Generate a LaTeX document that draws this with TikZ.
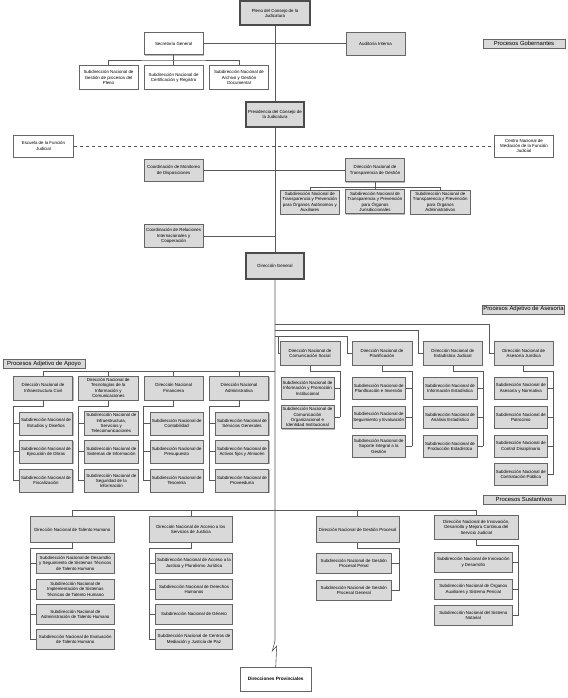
\documentclass[tikz,border=0pt]{standalone}
\usepackage{fontspec}
\setmainfont{Liberation Sans}
\usetikzlibrary{shadows}
\tikzset{
  org/.style={draw=black!60, fill=gray!30, line width=.5pt, align=center, inner sep=.5pt,
    font=\fontsize{4.4}{5.3}\selectfont,
    drop shadow={shadow xshift=.8pt, shadow yshift=-.8pt, fill=gray!55, opacity=1}},
  top/.style={org, draw=black!70, line width=2pt},
  blank/.style={org, fill=white},
  tag/.style={draw=black!60, fill=gray!30, line width=.5pt, inner sep=0pt,
    minimum width=82pt, minimum height=9pt, font=\fontsize{5.9}{6}\selectfont},
  wh/.style 2 args={minimum width=#1pt, minimum height=#2pt},
  link/.style={draw=black!65, line width=.6pt}
}
\begin{document}
\begin{tikzpicture}[x=1pt,y=-1pt]
  \useasboundingbox (0,0) rectangle (567,698);
  \node[top,wh={70}{24}] (pleno) at (275,13.5) {Pleno del Consejo de la\\Judicatura};
  \node[blank,wh={59}{22.5}] (secre) at (173.6,43.5) {Secretaría General};
  \node[org,wh={59}{23}] (audit) at (375.5,43.5) {Auditoría Interna};
  \node[tag] (gob) at (524,43.8) {Procesos Gobernantes};
  \node[blank,wh={59}{24}] (g1) at (108.5,77.7) {Subdirección Nacional de\\Gestión de procesos del\\Pleno};
  \node[blank,wh={59}{24}] (g2) at (173.6,77.7) {Subdirección Nacional de\\Certificación y Registro};
  \node[blank,wh={59}{24}] (g3) at (239,77.7) {Subdirección Nacional de\\Archivo y Gestión\\Documental};
  \node[top,wh={58}{25}] (presi) at (275,114.2) {Presidencia del Consejo de\\la Judicatura};
  \node[blank,wh={60}{21.5}] (escu) at (43.5,146) {Escuela de la Función\\Judicial};
  \node[blank,wh={59}{21.5}] (cnm) at (524,146) {Centro Nacional de\\Mediación de la Función\\Judicial};
  \node[org,wh={59}{22}] (cmon) at (173.6,170.3) {Coordinación de Monitoreo\\de Disposiciones};
  \node[org,wh={59}{23},line width=.9pt] (transp) at (375,170.3) {Dirección Nacional de\\Transparencia de Gestión};
  \node[org,wh={59}{24}] (t1) at (309.8,201.9) {Subdirección Nacional de\\Transparencia y Prevención\\para Órganos Autónomos y\\Auxiliares};
  \node[org,wh={59}{24},line width=1pt] (t2) at (375,201.9) {Subdirección Nacional de\\Transparencia y Prevención\\para Órganos\\Jurisdiccionales};
  \node[org,wh={59.7}{24}] (t3) at (440.3,201.9) {Subdirección Nacional de\\Transparencia y Prevención\\para Órganos\\Administrativos};
  \node[org,wh={59}{22.6}] (crel) at (173.6,236) {Coordinación de Relaciones\\Internacionales y\\Cooperación};
  \node[top,wh={58.6}{25.4}] (dgen) at (275,266) {Dirección General};
  \node[tag] (ases) at (523.5,309.3) {Procesos Adjetivo de Asesoría};
  \node[tag] (apoy) at (44,363.6) {Procesos Adjetivo de Apoyo};
  \node[tag] (sust) at (524,499.5) {Procesos Sustantivos};

  \node[org,wh={59.4}{24}] (a1) at (43,388) {Dirección Nacional de\\Infraestructura Civil};
  \node[org,wh={59.4}{24}] (a2) at (108.3,388) {Dirección Nacional de\\Tecnologías de la\\Información y\\Comunicaciones};
  \node[org,wh={59.4}{24}] (a3) at (173.7,388) {Dirección Nacional\\Financiera};
  \node[org,wh={59.4}{24}] (a4) at (239,388) {Dirección Nacional\\Administrativa};
  \node[org,wh={53.4}{23}] (a11) at (46,423.3) {Subdirección Nacional de\\Estudios y Diseños};
  \node[org,wh={53.4}{23}] (a12) at (46,451.7) {Subdirección Nacional de\\Ejecución de Obras};
  \node[org,wh={53.4}{23}] (a13) at (46,480.7) {Subdirección Nacional de\\Fiscalización};
  \node[org,wh={53.4}{24}] (a21) at (111.3,423.3) {Subdirección Nacional de\\Infraestructura,\\Servicios y\\Telecomunicaciones};
  \node[org,wh={53.4}{23}] (a22) at (111.3,451.7) {Subdirección Nacional de\\Sistemas de Información};
  \node[org,wh={53.4}{23}] (a23) at (111.3,480.7) {Subdirección Nacional de\\Seguridad de la\\Información};
  \node[org,wh={53.4}{23}] (a31) at (176.7,423.3) {Subdirección Nacional de\\Contabilidad};
  \node[org,wh={53.4}{23}] (a32) at (176.7,451.7) {Subdirección Nacional de\\Presupuesto};
  \node[org,wh={53.4}{23}] (a33) at (176.7,480.7) {Subdirección Nacional de\\Tesorería};
  \node[org,wh={53.4}{23}] (a41) at (242,423.3) {Subdirección Nacional de\\Servicios Generales};
  \node[org,wh={53.4}{23}] (a42) at (242,451.7) {Subdirección Nacional de\\Activos fijos y Almacén};
  \node[org,wh={53.4}{23}] (a43) at (242,480.7) {Subdirección Nacional de\\Proveeduría};

  \node[org,wh={59.5}{23.3}] (e1) at (310,353.3) {Dirección Nacional de\\Comunicación Social};
  \node[org,wh={59.5}{23.3}] (e2) at (382,353.3) {Dirección Nacional de\\Planificación};
  \node[org,wh={59.5}{23.3}] (e3) at (452.8,353.3) {Dirección Nacional de\\Estadística Judicial};
  \node[org,wh={59.5}{23.3}] (e4) at (523.7,353.3) {Dirección Nacional de\\Asesoría Jurídica};
  \node[org,wh={53.5}{22}] (e11) at (307.5,388.3) {Subdirección Nacional de\\Información y Promoción\\Institucional};
  \node[org,wh={53.5}{23}] (e12) at (307.5,417.2) {Subdirección Nacional de\\Comunicación\\Organizacional e\\Identidad Institucional};
  \node[org,wh={53.5}{22}] (e21) at (378.7,388.3) {Subdirección Nacional de\\Planificación e Inversión};
  \node[org,wh={53.5}{22}] (e22) at (378.7,417.2) {Subdirección Nacional de\\Seguimiento y Evaluación};
  \node[org,wh={53.5}{22}] (e23) at (378.7,446.2) {Subdirección Nacional de\\Soporte Integral a la\\Gestión};
  \node[org,wh={53.5}{22}] (e31) at (450,388.3) {Subdirección Nacional de\\Información Estadística};
  \node[org,wh={53.5}{22}] (e32) at (450,417.2) {Subdirección Nacional de\\Análisis Estadístico};
  \node[org,wh={53.5}{22}] (e33) at (450,446.2) {Subdirección Nacional de\\Producción Estadística};
  \node[org,wh={53.5}{22}] (e41) at (520.8,388.3) {Subdirección Nacional de\\Asesoría y Normativa};
  \node[org,wh={53.5}{22}] (e42) at (520.8,417.2) {Subdirección Nacional de\\Patrocinio};
  \node[org,wh={53.5}{22}] (e43) at (520.8,446.2) {Subdirección Nacional de\\Control Disciplinario};
  \node[org,wh={53.5}{22}] (e44) at (520.8,474.5) {Subdirección Nacional de\\Contratación Pública};

  \node[org,wh={83.3}{25.6}] (u1) at (72.3,529.5) {Dirección Nacional de Talento Humano};
  \node[org,wh={83}{25.6}] (u2) at (190.8,529.5) {Dirección Nacional de Acceso a los\\Servicios de Justicia};
  \node[org,wh={83.3}{25.6}] (u3) at (357.7,529.5) {Dirección Nacional de Gestión Procesal};
  \node[org,wh={84}{24.3}] (u4) at (476.3,527.2) {Dirección Nacional de Innovación,\\Desarrollo y Mejora Continua del\\Servicio Judicial};
  \node[org,wh={77.3}{20}] (u11) at (75.3,563.3) {Subdirección Nacional de Desarrollo\\y Seguimiento de Sistemas Técnicos\\de Talento Humano};
  \node[org,wh={77.3}{20}] (u12) at (75.3,589.2) {Subdirección Nacional de\\Implementación de Sistemas\\Técnicos de Talento Humano};
  \node[org,wh={77.3}{20}] (u13) at (75.3,614.3) {Subdirección Nacional de\\Administración de Talento Humano};
  \node[org,wh={77.3}{20}] (u14) at (75.3,639.3) {Subdirección Nacional de Evaluación\\de Talento Humano};
  \node[org,wh={76.6}{20}] (u21) at (194,563.3) {Subdirección Nacional de Acceso a la\\Justicia y Pluralismo Jurídico};
  \node[org,wh={76.6}{20}] (u22) at (194,589.2) {Subdirección Nacional de Derechos\\Humanos};
  \node[org,wh={76.6}{20}] (u23) at (194,614.3) {Subdirección Nacional de Género};
  \node[org,wh={76.6}{20}] (u24) at (194,639.3) {Subdirección Nacional de Centros de\\Mediación y Justicia de Paz};
  \node[org,wh={74.3}{20}] (u31) at (353.8,563.3) {Subdirección Nacional de Gestión\\Procesal Penal};
  \node[org,wh={74.3}{20}] (u32) at (353.8,590.3) {Subdirección Nacional de Gestión\\Procesal General};
  \node[org,wh={78}{20}] (u41) at (473.3,562.3) {Subdirección Nacional de Innovación\\y Desarrollo};
  \node[org,wh={78}{20}] (u42) at (473.3,589) {Subdirección Nacional de Órganos\\Auxiliares y Sistema Pericial};
  \node[org,wh={78}{20}] (u43) at (473.3,615.3) {Subdirección Nacional del Sistema\\Notarial};
  \node[blank,wh={71}{23.7},font=\fontsize{4.7}{5.5}\selectfont\bfseries] (prov) at (275.7,679.2) {Direcciones Provinciales};

  \draw[link] (pleno.south) -- (presi.north);
  \draw[link] (presi.south) -- (dgen.north);
  \draw[link] (secre.east) -- (audit.west);
  \coordinate (gbus) at (173.6,60);
  \draw[link] (g1.north) |- (gbus) -| (g3.north);
  \draw[link] (secre.south) -- (g2.north);
  \draw[link,dashed,dash pattern=on 3.5pt off 2.5pt] (escu.east) -- (cnm.west);
  \draw[link] (cmon.east) -- (transp.west);
  \coordinate (tbus) at (375,187.3);
  \draw[link] (t1.north) |- (tbus) -| (t3.north);
  \draw[link] (transp.south) -- (t2.north);
  \draw[link] (crel.east) -- (crel.east -| dgen.north);

  \coordinate (bolt1) at (275,641);
  \coordinate (bolt2) at (272.3,651);
  \coordinate (bolt3) at (276.7,646);
  \draw[link] (dgen.south) -- (bolt1) -- (bolt2) -- (bolt3) -- (prov.north);

  \coordinate (apbus) at (275,371.7);
  \draw[link] (apbus) -| (a1.north);
  \foreach \i in {2,3,4} \draw[link] (a\i.north) -- (a\i.north |- apbus);
  \foreach \i in {1,...,4} {
    \draw[link] (a\i.south) -- ++(0,6) -| (a\i.west |- a\i3.west);
    \foreach \k in {1,2,3} \draw[link] (a\i\k.west) -- (a\i.west |- a\i\k.west);
  }

  \coordinate (j4) at (275,324.7);
  \coordinate (j3) at (275,330.7);
  \coordinate (j2) at (275,336.3);
  \draw[link] (j4) -| ([xshift=-4.5pt]e4.west) -- (e4.west);
  \draw[link] (j3) -| ([xshift=-4.5pt]e3.west) -- (e3.west);
  \draw[link] (j2) -| ([xshift=-4.5pt]e2.west) -- (e2.west);
  \draw[link] (j2) -| ([xshift=-2pt]e1.west) -- (e1.west);
  \foreach \i/\n in {1/2,2/3,3/3,4/4} {
    \draw[link] (e\i.south) -- ++(0,6) -| (e\i.east |- e\i\n.east);
    \foreach \k in {1,...,\n} \draw[link] (e\i\k.east) -- (e\i.east |- e\i\k.east);
  }

  \coordinate (sbus) at (275,510.7);
  \draw[link] (u1.north) |- (sbus) -| (u4.north);
  \foreach \i in {2,3} \draw[link] (u\i.north) -- (u\i.north |- sbus);
  \foreach \i/\n in {1/4,2/4} {
    \draw[link] (u\i.south) -- ++(0,6) -| (u\i.west |- u\i\n.west);
    \foreach \k in {1,...,\n} \draw[link] (u\i\k.west) -- (u\i.west |- u\i\k.west);
  }
  \foreach \i/\n in {3/2,4/3} {
    \draw[link] (u\i.south) -- ++(0,6) -| (u\i.east |- u\i\n.east);
    \foreach \k in {1,...,\n} \draw[link] (u\i\k.east) -- (u\i.east |- u\i\k.east);
  }
\end{tikzpicture}
\end{document}
